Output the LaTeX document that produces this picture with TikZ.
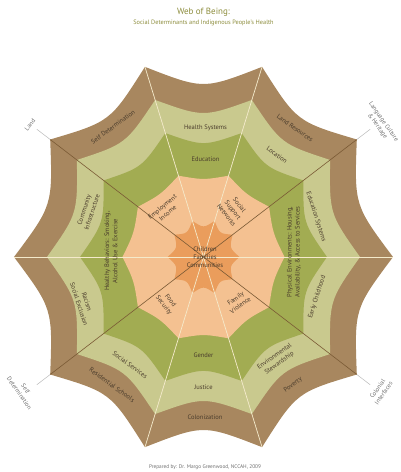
\documentclass[tikz,border=0pt]{standalone}
\usepackage{fontspec}
\setmainfont{PT Sans}

\definecolor{webbrown}{HTML}{A8875F}
\definecolor{webkhaki}{HTML}{C9C98E}
\definecolor{webolive}{HTML}{A2AC52}
\definecolor{webpeach}{HTML}{F4C191}
\definecolor{weborange}{HTML}{EA9D5C}
\definecolor{spokebrown}{HTML}{7A5A35}
\definecolor{spokecream}{HTML}{F4EACB}
\definecolor{inkbrown}{HTML}{4A3C2C}
\definecolor{rimgray}{HTML}{6E6E6E}
\definecolor{titleolive}{HTML}{8C8C3C}

% a ring of the web: ten points at radius #2, concave edges pulled in to #3
\newcommand{\webring}[3]{%
    \fill[#1] (0:#2) \foreach \k in {1,...,10} {
        .. controls ({36*\k-18}:#3) .. ({36*\k}:#2)} -- cycle;}

\begin{document}
\begin{tikzpicture}[
    x=1pt, y=1pt,
    band/.style={font=\fontsize{6.5}{8.2}\selectfont, text=inkbrown, align=center, inner sep=1pt},
    rim/.style={font=\fontsize{6.2}{7.6}\selectfont, text=rimgray, align=center, inner sep=1pt},
    darkspoke/.style={spokebrown, line width=0.6pt},
    lightspoke/.style={spokecream, line width=0.7pt},
    tick/.style={gray!55, line width=0.5pt},
]
    \useasboundingbox (-203.5,-215) rectangle (196.5,257);

    \def\rout{189.5}    % the ten outer points of the web
    \def\rtick{206}     % end of the short ticks at the outer labels

    % =============================================================
    % The web, slightly taller than wide
    % =============================================================
    \begin{scope}[yscale=1.055]
        \webring{webbrown}{\rout}{158.6}
        \webring{webkhaki}{156.5}{132.4}
        \webring{webolive}{123.5}{104.8}
        \webring{webpeach}{81}{73}
        \webring{weborange}{36}{27.3}

        % spokes: cream ones across, brown ones on the diagonals
        \foreach \a in {0,72,108,180,252,288}
            \draw[lightspoke] (0,0) -- (\a:\rout);
        \foreach \a in {36,144,216,324} {
            \draw[darkspoke] (0,0) -- (\a:\rout);
            \draw[tick] (\a:\rout) -- (\a:\rtick);
        }
    \end{scope}

    % =============================================================
    % Labels of the bands
    % =============================================================
    % top
    \node[band] (health) at (2,129) {Health Systems};
    \node[band] (educ) at (2,98) {Education};
    % upper left
    \node[band, rotate=36] (selfdet) at (-90.5,130) {Self Determination};
    \node[band, rotate=40] (employ) at (-38.5,47) {Employment\\Income};
    % upper right
    \node[band, rotate=-36] (landres) at (91.5,129) {Land Resources};
    \node[band, rotate=-36] (locat) at (73.5,102) {Location};
    \node[band, rotate=-52] (support) at (29.5,47) {Social\\Support\\Networks};
    % right
    \node[band, rotate=-72] (edsys) at (112.5,40) {Education Systems};
    \node[band, rotate=72] (early) at (113.5,-40) {Early Childhood};
    \node[band, rotate=90] (physenv) at (90.5,5)
        {Physical Environments: Housing,\\Availability, \& Access to Services};
    % lower right
    \node[band, rotate=36] (steward) at (73.5,-103) {Environmental\\Stewardship};
    \node[band, rotate=36] (poverty) at (89.5,-128) {Poverty};
    \node[band, rotate=36] (violence) at (34.5,-45) {Family\\Violence};
    % bottom
    \node[band] (gender) at (0,-98) {Gender};
    \node[band] (justice) at (0,-130) {Justice};
    \node[band] (colon) at (1.5,-160) {Colonization};
    % lower left
    \node[band, rotate=-36] (socserv) at (-73.5,-108) {Social Services};
    \node[band, rotate=-36] (resid) at (-91.5,-128) {Residential Schools};
    \node[band, rotate=-52] (food) at (-36.5,-46) {Food\\Security};
    % left
    \node[band, rotate=72] (commun) at (-115.5,46) {Community\\Infrastructure};
    \node[band, rotate=-72] (racism) at (-120.5,-46) {Racism\\Social Exclusion};
    \node[band, rotate=90] (behav) at (-92.5,6)
        {Healthy Behaviors: Smoking,\\Alcohol Use \& Exercise};
    % centre
    \node[band] (centre) at (1.5,0) {Children\\Families\\Communities};

    % =============================================================
    % Outer labels, title and credit
    % =============================================================
    \node[rim, rotate=52] (land) at (-173.5,132) {Land};
    \node[rim, rotate=-55] (lang) at (177,133) {Language Culture\\\& Heritage};
    \node[rim, rotate=55] (colint) at (177,-134) {Colonial\\Interfaces};
    \node[rim, rotate=-55] (selfout) at (-181,-134) {Self\\Determination};

    \node[font=\fontsize{9}{10}\selectfont, text=titleolive] (title) at (0,245)
        {Web of Being:};
    \node[font=\fontsize{6.3}{7}\selectfont, text=titleolive] (subtitle) at (0,234)
        {Social Determinants and Indigenous People's Health};
    \node[font=\fontsize{5.3}{6}\selectfont, text=rimgray] (credit) at (1.5,-210)
        {Prepared by: Dr. Margo Greenwood, NCCAH, 2009};

\end{tikzpicture}
\end{document}
